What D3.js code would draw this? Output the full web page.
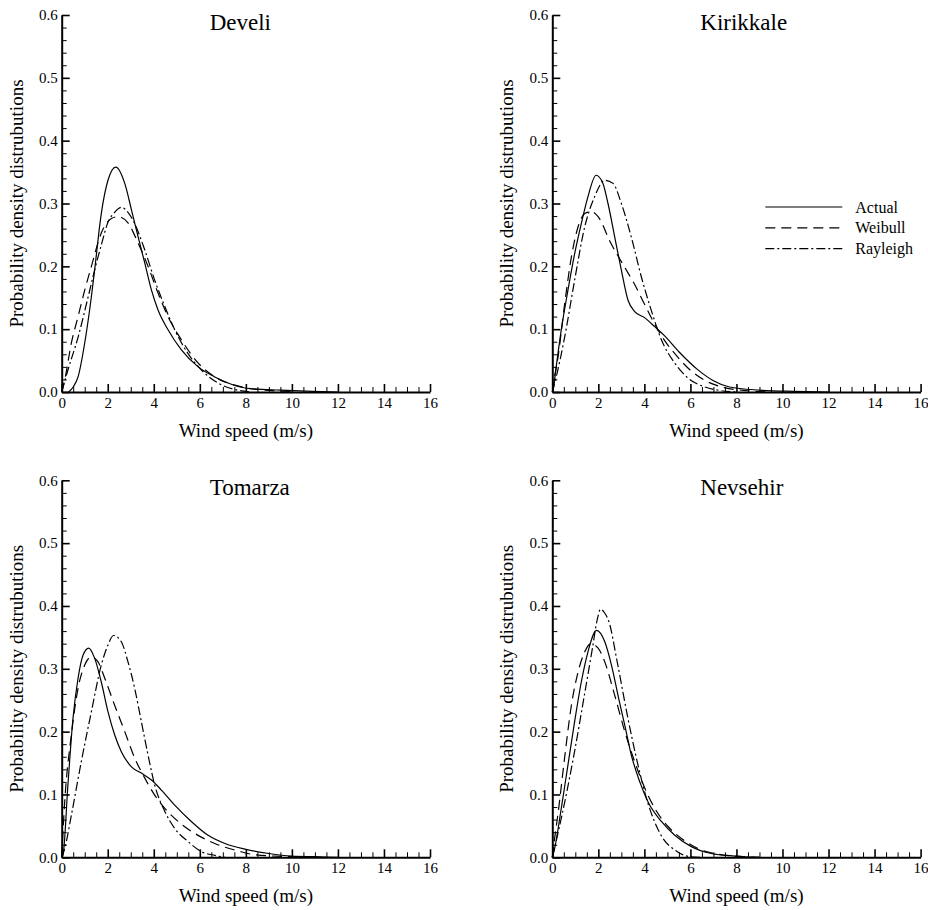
<!DOCTYPE html>
<html>
<head>
<meta charset="utf-8">
<script src="https://cdn.jsdelivr.net/npm/d3@7"></script>
<style>
  html, body { margin: 0; padding: 0; background: #fff; }
  svg { display: block; }
</style>
</head>
<body>
<svg id="chart" width="928" height="910"></svg>
<script>
// ---------- data (wind speed m/s, probability density) ----------
const stations = ["Develi", "Kirikkale", "Tomarza", "Nevsehir"];
const seriesNames = ["Actual", "Weibull", "Rayleigh"];
const xTicks = [0, 2, 4, 6, 8, 10, 12, 14, 16];
const yTicks = [0.0, 0.1, 0.2, 0.3, 0.4, 0.5, 0.6];
const xLabel = "Wind speed (m/s)";
const yLabel = "Probability density distrubutions";

const develiActual = [[0.3,0],[0.5,0.008],[0.71,0.024],[1.0,0.078],[1.29,0.152],[1.43,0.194],[1.72,0.284],[2.01,0.337],[2.35,0.358],[2.74,0.332],[3.03,0.29],[3.32,0.247],[3.61,0.205],[3.9,0.162],[4.19,0.13],[4.62,0.099],[5.2,0.067],[5.93,0.04],[6.65,0.024],[7.4,0.012],[8.04,0.006],[9.5,0.003],[10.9,0.001],[12,0]];
const develiWeibull = [[0,0],[0.13,0.019],[0.42,0.078],[0.71,0.12],[1.0,0.162],[1.29,0.2],[1.72,0.253],[2.16,0.276],[2.45,0.279],[2.88,0.269],[3.32,0.237],[3.75,0.2],[4.19,0.157],[4.62,0.12],[5.2,0.083],[5.93,0.046],[6.65,0.024],[7.52,0.011],[8.5,0.004],[10,0.001]];
const develiRayleigh = [[0,0],[0.27,0.035],[0.71,0.087],[1.14,0.15],[1.43,0.194],[1.72,0.234],[2.01,0.27],[2.3,0.286],[2.59,0.294],[2.88,0.286],[3.17,0.268],[3.61,0.226],[4.04,0.178],[4.48,0.136],[4.91,0.099],[5.49,0.061],[6.07,0.035],[6.8,0.014],[7.52,0.004],[8.2,0]];

const kirikkaleActual = [[0.03,0],[0.39,0.099],[0.68,0.162],[0.97,0.22],[1.26,0.268],[1.55,0.311],[1.9,0.345],[2.2,0.332],[2.42,0.3],[2.71,0.247],[3.0,0.194],[3.29,0.146],[3.58,0.128],[4.02,0.118],[4.45,0.104],[4.86,0.09],[5.5,0.064],[6.3,0.036],[7.0,0.018],[7.7,0.008],[9,0.003],[10.5,0.001],[12,0]];
const kirikkaleWeibull = [[0,0],[0.1,0.024],[0.25,0.056],[0.54,0.141],[0.83,0.215],[1.12,0.263],[1.41,0.284],[1.7,0.287],[1.99,0.279],[2.54,0.237],[3.12,0.2],[3.55,0.173],[3.99,0.141],[4.42,0.11],[4.86,0.083],[5.44,0.056],[6.02,0.034],[6.6,0.019],[7.47,0.007],[8.5,0.002],[9.5,0]];
const kirikkaleRayleigh = [[0,0],[0.17,0.024],[0.54,0.088],[0.97,0.178],[1.41,0.263],[1.84,0.311],[2.28,0.337],[2.64,0.332],[3.0,0.3],[3.43,0.247],[3.87,0.183],[4.3,0.13],[4.74,0.083],[5.32,0.046],[5.9,0.022],[6.63,0.008],[7.35,0.002],[8,0]];

const tomarzaActual = [[0,0],[0.06,0.004],[0.27,0.115],[0.49,0.221],[0.71,0.285],[0.93,0.322],[1.17,0.333],[1.43,0.317],[1.72,0.279],[2.01,0.232],[2.3,0.195],[2.59,0.168],[3.03,0.144],[3.46,0.134],[3.9,0.123],[4.33,0.107],[4.91,0.083],[5.63,0.057],[6.36,0.035],[7.09,0.022],[7.96,0.013],[9,0.006],[10,0.002],[11,0.001],[12,0]];
const tomarzaWeibull = [[0,0],[0.13,0.088],[0.42,0.195],[0.71,0.269],[1.0,0.306],[1.29,0.319],[1.58,0.311],[1.87,0.285],[2.3,0.242],[2.74,0.2],[3.17,0.158],[3.61,0.126],[4.04,0.099],[4.48,0.078],[5.06,0.057],[5.78,0.038],[6.65,0.022],[7.67,0.01],[8.4,0.004],[10,0.001]];
const tomarzaRayleigh = [[0,0],[0.13,0.014],[0.42,0.067],[0.85,0.152],[1.29,0.232],[1.72,0.306],[2.01,0.338],[2.25,0.353],[2.59,0.343],[2.88,0.311],[3.17,0.269],[3.46,0.216],[3.75,0.163],[4.04,0.115],[4.48,0.073],[4.91,0.046],[5.49,0.025],[6.07,0.009],[6.65,0.003],[7.1,0]];

const nevsehirActual = [[0,0],[0.1,0.014],[0.39,0.078],[0.68,0.147],[0.97,0.216],[1.26,0.279],[1.55,0.327],[1.92,0.361],[2.28,0.343],[2.57,0.306],[2.9,0.25],[3.15,0.21],[3.43,0.163],[3.8,0.12],[4.16,0.088],[4.74,0.057],[5.32,0.035],[6.04,0.017],[6.91,0.006],[7.93,0.002],[9,0]];
const nevsehirWeibull = [[0,0],[0.1,0.03],[0.25,0.07],[0.54,0.16],[0.83,0.242],[1.12,0.295],[1.41,0.327],[1.67,0.34],[1.99,0.333],[2.28,0.311],[2.71,0.258],[3.15,0.2],[3.58,0.152],[4.02,0.11],[4.45,0.078],[5.03,0.049],[5.61,0.03],[6.33,0.014],[7.2,0.005],[7.9,0.002],[9,0]];
const nevsehirRayleigh = [[0,0],[0.36,0.057],[0.94,0.163],[1.37,0.253],[1.74,0.332],[1.95,0.378],[2.1,0.395],[2.25,0.39],[2.46,0.375],[2.82,0.311],[3.26,0.226],[3.69,0.152],[4.13,0.089],[4.71,0.036],[5.43,0.009],[6.0,0.001],[6.5,0]];

const stationData = {
  Develi: [develiActual, develiWeibull, develiRayleigh],
  Kirikkale: [kirikkaleActual, kirikkaleWeibull, kirikkaleRayleigh],
  Tomarza: [tomarzaActual, tomarzaWeibull, tomarzaRayleigh],
  Nevsehir: [nevsehirActual, nevsehirWeibull, nevsehirRayleigh]
};

// ---------- layout ----------
const svg = d3.select("#chart");
const plotW = 368.3, plotH = 377;
const origins = [[61.7, 15], [552.3, 15], [61.7, 480.3], [552.3, 480.3]];
const dashes = [null, "10,6", "9,3,2,3"];
const FONT = "Liberation Serif";

const x = d3.scaleLinear().domain([0, 16]).range([0, plotW]);
const y = d3.scaleLinear().domain([0, 0.6]).range([plotH, 0]);
const line = d3.line().x(d => x(d[0])).y(d => y(d[1])).curve(d3.curveMonotoneX);

const xMinor = d3.range(0, 16.01, 0.5).filter(v => Math.abs(v % 2) > 1e-6);
const yMinor = d3.range(0, 0.601, 0.02).filter(v => Math.abs(Math.round(v * 10) - v * 10) > 1e-6);

function styleText(sel, size) {
  sel.style("font-family", FONT).style("font-size", size + "px").attr("fill", "#000");
}

stations.forEach((name, i) => {
  const [ox, oy] = origins[i];
  const g = svg.append("g").attr("transform", `translate(${ox},${oy})`);

  // minor ticks
  g.append("g").attr("transform", `translate(0,${plotH})`)
    .call(d3.axisBottom(x).tickValues(xMinor).tickSizeInner(-5).tickSizeOuter(0).tickFormat(""))
    .call(a => a.select(".domain").remove())
    .call(a => a.selectAll("line").attr("stroke-width", 1));
  g.append("g")
    .call(d3.axisLeft(y).tickValues(yMinor).tickSizeInner(-5).tickSizeOuter(0).tickFormat(""))
    .call(a => a.select(".domain").remove())
    .call(a => a.selectAll("line").attr("stroke-width", 1));

  // major axes
  g.append("g").attr("transform", `translate(0,${plotH})`)
    .call(d3.axisBottom(x).tickValues(xTicks).tickSizeInner(-8).tickSizeOuter(0).tickPadding(5).tickFormat(d3.format("d")))
    .call(a => a.select(".domain").attr("stroke-width", 2))
    .call(a => a.selectAll("line").attr("stroke-width", 1.6))
    .call(a => styleText(a.selectAll("text"), 15));
  g.append("g")
    .call(d3.axisLeft(y).tickValues(yTicks).tickSizeInner(-8).tickSizeOuter(0).tickPadding(4).tickFormat(d3.format(".1f")))
    .call(a => a.select(".domain").attr("stroke-width", 2))
    .call(a => a.selectAll("line").attr("stroke-width", 1.6))
    .call(a => styleText(a.selectAll("text"), 15));

  // curves
  stationData[name].forEach((s, k) => {
    g.append("path").datum(s)
      .attr("d", line)
      .attr("fill", "none")
      .attr("stroke", "#000")
      .attr("stroke-width", 1.2)
      .attr("stroke-dasharray", dashes[k]);
  });

  // title
  g.append("text").attr("x", 148).attr("y", 15).text(name).call(styleText, 23);

  // axis labels
  g.append("text").attr("x", plotW / 2).attr("y", plotH + 45)
    .attr("text-anchor", "middle").text(xLabel).call(styleText, 19);
  g.append("text").attr("transform", `translate(-39,${plotH / 2}) rotate(-90)`)
    .attr("text-anchor", "middle").text(yLabel).call(styleText, 19);

  // legend (second panel only)
  if (i === 1) {
    const lg = g.append("g").attr("transform", "translate(213,192)");
    seriesNames.forEach((sn, k) => {
      const yy = k * 20.8;
      lg.append("line").attr("x1", 0).attr("x2", 77).attr("y1", yy).attr("y2", yy)
        .attr("stroke", "#000").attr("stroke-width", 1.2).attr("stroke-dasharray", dashes[k]);
      lg.append("text").attr("x", 90).attr("y", yy).attr("dy", "0.35em")
        .text(sn).call(styleText, 16);
    });
  }
});
</script>
</body>
</html>
